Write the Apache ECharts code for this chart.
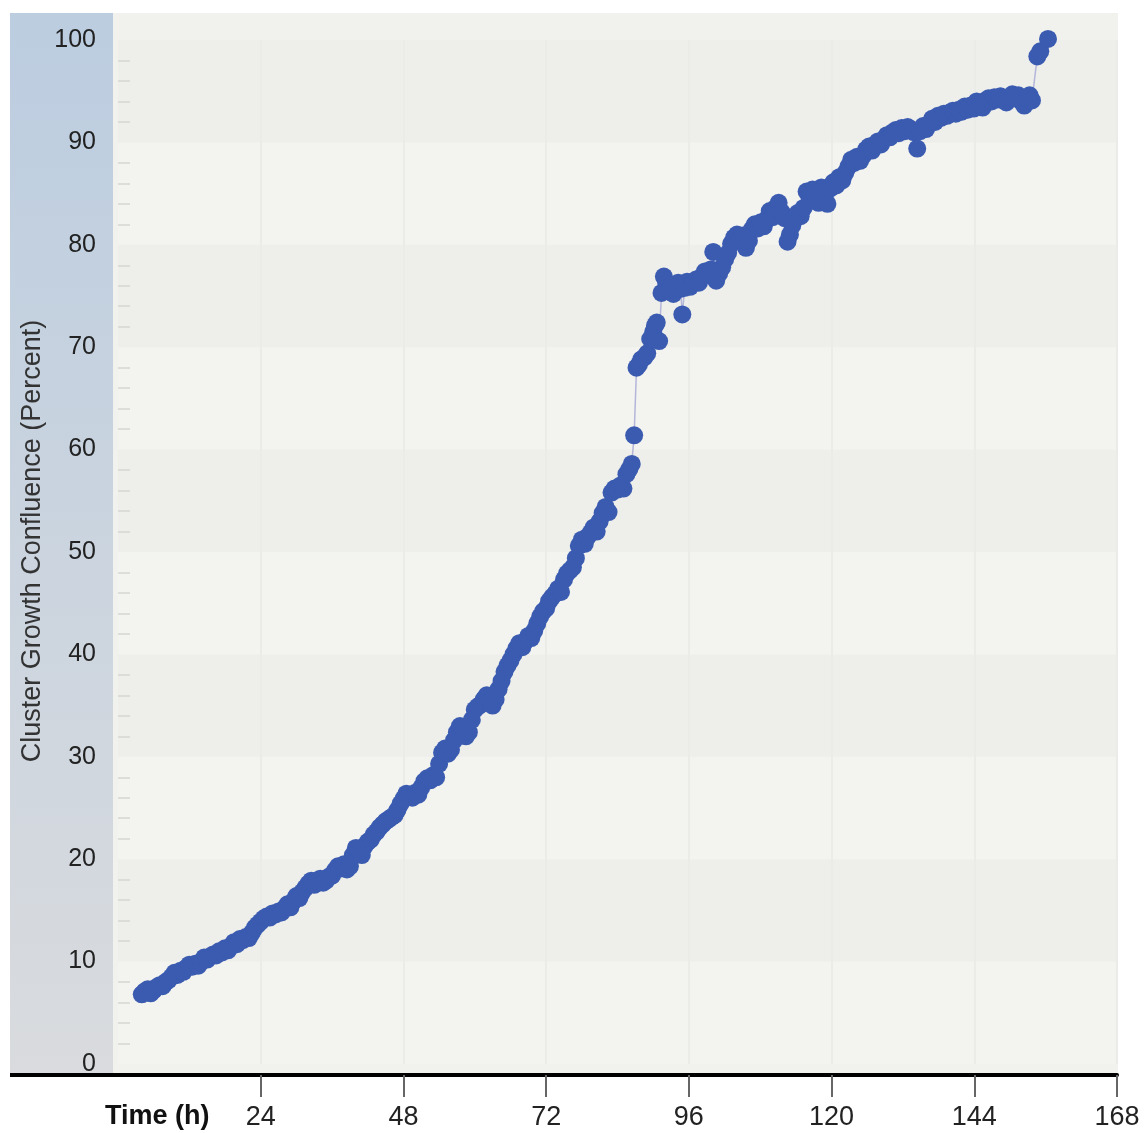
<!DOCTYPE html>
<html>
<head>
<meta charset="utf-8">
<script src="https://cdn.jsdelivr.net/npm/echarts@6/dist/echarts.min.js"></script>
<style>html,body{margin:0;padding:0;background:#fff;}#c{width:1144px;height:1133px;}</style>
</head>
<body>
<div id="c"></div>
<script>
// ---- data ----
const hours = [
4,4.5,5,5.5,6,6.5,7,7.5,8,8.5,9,9.5,10,10.5,11,11.5,12,12.5,13,13.5,14,14.5,15,15.5,16,16.5,17,17.5,18,18.5,19,19.5,20,20.5,21,21.5,22,22.5,23,23.5,
24,24.5,25,25.5,26,26.5,27,27.5,28,28.5,29,29.5,30,30.5,31,31.5,32,32.5,33,33.5,34,34.5,35,35.5,36,36.5,37,37.5,38,38.5,39,39.5,
40,40.5,41,41.5,42,42.5,43,43.5,44,44.5,45,45.5,46,46.5,47,47.5,48,48.5,49,49.5,50,50.5,51,51.5,52,52.5,53,53.5,54,54.5,55,55.5,
56,56.5,57,57.5,58,58.5,59,59.5,60,60.5,61,61.5,62,62.5,63,63.5,64,64.5,65,65.5,66,66.5,67,67.5,68,68.5,69,69.5,70,70.5,71,71.5,
72,72.5,73,73.5,74,74.5,75,75.5,76,76.5,77,77.5,78,78.5,79,79.5,80,80.5,81,81.5,82,82.5,83,83.5,84,84.5,85,85.5,86,86.4,86.8,87.2,87.6,
88,88.5,89,89.5,90,90.3,90.6,91.0,91.4,91.8,92.2,92.6,93,93.4,93.8,94.2,94.6,94.9,95.3,95.7,96.2,96.7,97.2,97.7,98.2,98.7,99.2,99.7,
100.1,100.6,101.1,101.6,102.1,102.6,103.1,103.6,104.1,104.6,105.1,105.6,106.1,106.6,107.1,107.6,108.1,108.6,109.1,109.6,110.1,110.6,111.1,111.6,112.1,112.6,
113,113.4,113.8,114.3,114.8,115.3,115.8,116.3,116.8,117.3,117.8,118.3,118.8,119.3,119.8,120.3,120.8,121.3,121.8,122.3,122.8,123.3,123.8,124.3,124.8,
125.3,125.8,126.3,126.8,127.3,127.8,128.3,128.8,129.3,129.8,130.3,130.8,131.3,131.8,132.3,132.8,133.3,133.8,134.4,134.9,135.4,135.9,136.4,136.9,
137.4,137.9,138.4,138.9,139.4,139.9,140.4,140.9,141.4,141.9,142.4,142.9,143.4,143.9,144.4,144.9,145.4,145.9,146.4,146.9,147.4,147.9,148.4,148.9,
149.4,149.9,150.4,150.9,151.4,151.9,152.4,152.9,153.3,153.7,154.6,155.1,156.4];
const confluence = [
6.8,7.1,7.3,6.9,7.2,7.5,7.7,7.6,8.0,8.2,8.5,8.9,8.7,9.1,9.0,9.4,9.7,9.5,9.8,9.6,10.0,10.4,10.2,10.5,10.7,10.6,11.0,10.9,11.3,11.1,11.5,11.9,11.7,12.2,12.1,12.4,12.3,12.8,13.3,13.6,
13.9,14.2,14.4,14.3,14.7,14.6,14.9,14.8,15.2,15.6,15.3,15.9,16.4,16.2,16.8,17.2,17.6,17.9,17.5,17.8,18.1,17.7,17.9,18.3,18.4,18.9,19.3,19.1,19.5,19.0,19.3,20.4,
21.1,20.8,20.4,21.3,21.7,21.9,22.4,22.7,23.1,23.4,23.7,23.9,24.1,24.3,24.8,25.4,25.9,26.4,26.2,26.0,26.5,26.3,27.0,27.6,27.9,27.7,28.2,28.0,29.3,30.4,30.8,30.3,
30.7,31.6,32.4,33.0,32.5,32.0,32.4,33.6,34.6,34.9,35.1,35.6,36.0,35.4,35.0,35.6,36.6,37.4,38.3,38.9,39.4,40.0,40.6,41.1,40.7,41.3,41.8,41.6,42.3,43.0,43.7,44.2,
44.5,45.2,45.6,45.9,46.4,46.1,47.3,47.9,48.2,48.5,49.4,50.6,51.2,50.8,51.5,51.9,52.4,52.0,53.0,53.8,54.4,53.9,55.8,56.2,56.1,56.5,56.2,57.6,58.1,58.6,61.4,68.0,68.3,
68.8,69.0,69.4,70.8,71.5,72.1,72.4,70.6,75.3,76.9,76.2,75.6,76.0,75.2,75.9,76.3,75.7,73.2,75.8,76.4,75.9,76.2,76.6,76.3,76.9,77.4,77.1,77.6,
79.3,76.5,77.2,77.8,78.6,79.2,80.1,80.7,81.0,80.5,80.9,79.7,80.4,81.5,82.0,81.6,82.2,81.8,82.5,83.3,82.7,83.6,84.1,83.2,82.6,80.3,
81.0,81.9,82.7,83.1,82.8,83.6,85.2,84.6,85.4,84.8,84.1,85.6,84.7,84.0,85.5,86.1,85.8,86.6,86.3,87.0,87.6,88.3,88.0,88.6,88.2,
88.7,89.3,89.6,89.2,89.8,90.1,89.8,90.3,90.7,90.5,91.0,91.2,90.9,91.4,91.1,91.5,91.3,91.0,89.4,91.1,91.6,91.3,91.8,92.3,
92.0,92.6,92.4,92.8,92.6,92.9,93.1,92.8,93.2,93.0,93.5,93.2,93.6,93.3,94.0,93.7,93.4,94.1,94.3,94.0,94.4,94.2,94.5,94.1,
93.9,94.4,94.7,94.3,94.6,94.0,93.6,94.2,94.6,94.1,98.4,98.9,100.1];
const xTicks = [24,48,72,96,120,144,168];
const yTitle = 'Cluster Growth Confluence (Percent)';
const xTitle = 'Time (h)';

const points = hours.map((h, i) => [h, confluence[i]]);
const FONT = '"Liberation Sans", Arial, sans-serif';

const chart = echarts.init(document.getElementById('c'));
chart.setOption({
  backgroundColor: '#ffffff',
  animation: false,
  grid: { left: 118, right: 27, top: 40, bottom: 69, containLabel: false },
  graphic: [
    { type: 'rect', z: -10, shape: { x: 113, y: 13, width: 1005, height: 1062 }, style: { fill: '#f1f1ed' }, silent: true },
    { type: 'rect', z: -9, shape: { x: 10, y: 13, width: 103, height: 1062 },
      style: { fill: new echarts.graphic.LinearGradient(0, 0, 0, 1, [
        { offset: 0, color: '#bccde0' }, { offset: 1, color: '#d9dbde' }]) }, silent: true },
    { type: 'line', z: 10, shape: { x1: 10, y1: 1075, x2: 120, y2: 1075 }, style: { stroke: '#000', lineWidth: 4 }, silent: true },
    { type: 'text', z: 10, left: 105, top: 1103, style: { text: xTitle, font: 'bold 27px ' + FONT, fill: '#111' } },
    { type: 'text', z: 10, x: 33, y: 541, rotation: Math.PI / 2,
      style: { text: yTitle, font: '27px ' + FONT, fill: '#333', align: 'center', verticalAlign: 'middle' } }
  ],
  xAxis: {
    type: 'value', min: 0, max: 168, interval: 24, offset: 11,
    axisLine: { show: true, onZero: false, lineStyle: { color: '#000', width: 4 } },
    axisTick: { show: true, customValues: xTicks, length: 22, lineStyle: { color: '#666', width: 2 } },
    axisLabel: { customValues: xTicks, fontSize: 27, margin: 29, color: '#222', fontFamily: FONT },
    splitLine: { show: true, lineStyle: { color: '#ebebe7', width: 2 } }
  },
  yAxis: {
    type: 'value', min: 0, max: 100, interval: 10,
    axisLine: { show: false },
    axisTick: { show: false, inside: true },
    minorTick: { show: true, splitNumber: 5, length: 12, lineStyle: { color: '#d6d6d2', width: 1.5 } },
    axisLabel: { fontSize: 25, margin: 22, color: '#222', fontFamily: FONT },
    splitLine: { show: false },
    splitArea: { show: true, areaStyle: { color: ['#f3f3ef', '#eeeeea'] } }
  },
  series: [{
    type: 'line',
    data: points,
    symbol: 'circle',
    symbolSize: 18,
    showAllSymbol: true,
    clip: false,
    lineStyle: { color: '#b4b6da', width: 1.5 },
    itemStyle: { color: '#3a5bb0', borderWidth: 0 },
    z: 3
  }]
});
</script>
</body>
</html>
